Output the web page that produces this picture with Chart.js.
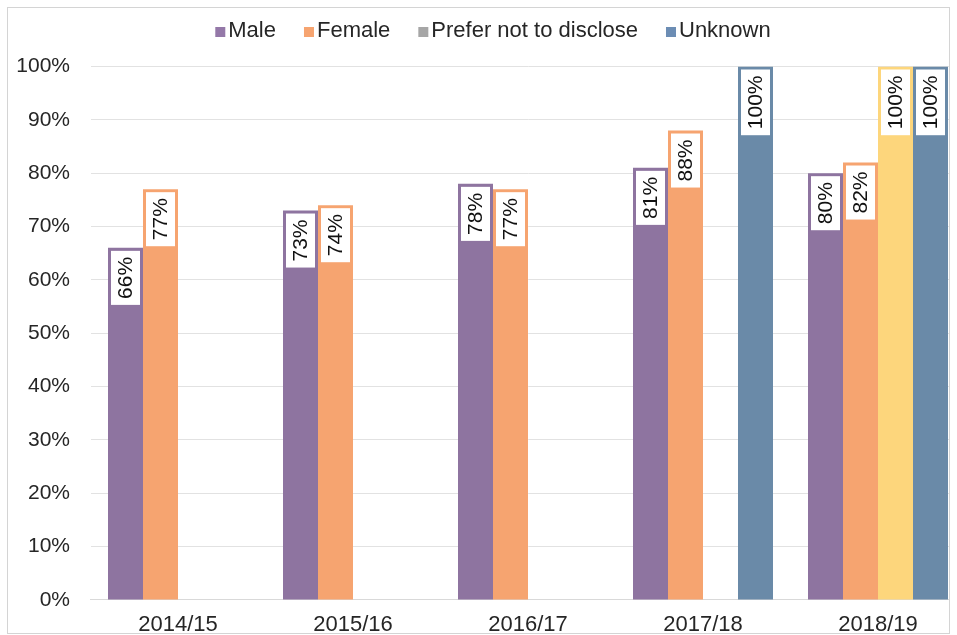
<!DOCTYPE html>
<html><head><meta charset="utf-8">
<script src="https://cdn.jsdelivr.net/npm/chart.js@4/dist/chart.umd.min.js"></script>
<style>
html,body{margin:0;padding:0;background:#fff;width:957px;height:635px;overflow:hidden}
#frame{position:absolute;left:7px;top:7px;width:941px;height:625px;border:1px solid #d4d4d4;overflow:hidden;background:#fff}
#c{position:absolute;left:0;top:0}
</style></head>
<body><div id="frame"><canvas id="c" width="970" height="625" style="width:970px;height:625px"></canvas></div>
<script>
const categories = ['2014/15', '2015/16', '2016/17', '2017/18', '2018/19'];
const seriesNames = ['Male', 'Female', 'Prefer not to disclose', 'Unknown'];
const male = [66, 73, 78, 81, 80];
const female = [77, 74, 77, 88, 82];
const preferNot = [null, null, null, null, 100];
const unknown = [null, null, null, 100, 100];
const yTickValues = [0, 10, 20, 30, 40, 50, 60, 70, 80, 90, 100];

const COL_MALE = '#8e74a0';
const COL_FEMALE = '#f6a470';
const COL_PREFER_BAR = '#fdd67c';
const COL_PREFER_LEGEND = '#a6a6a6';
const COL_UNKNOWN = '#6a8aa8';
const COL_MALE_LEGEND = '#9478a8';
const COL_UNKNOWN_LEGEND = '#6c8db4';
const FONT = "'Liberation Sans', Arial, sans-serif";
const TEXT = '#262626';

const legendPlugin = {
  id: 'customLegend',
  afterDraw(chart) {
    const ctx = chart.ctx;
    const items = chart.data.datasets.map(d => ({ label: d.label, color: d.legendColor }));
    ctx.save();
    ctx.font = '22px ' + FONT;
    const box = 10, gap = 3, spacing = 28;
    let total = 0;
    items.forEach((it, i) => {
      it.w = box + gap + ctx.measureText(it.label).width;
      total += it.w + (i ? spacing : 0);
    });
    let x = chart.width / 2 - total / 2;
    const yc = 23;
    ctx.textBaseline = 'middle';
    ctx.textAlign = 'left';
    items.forEach(it => {
      ctx.fillStyle = it.color;
      ctx.fillRect(x, yc - box / 2 + 1, box, box);
      ctx.fillStyle = TEXT;
      ctx.fillText(it.label, x + box + gap, yc);
      x += it.w + spacing;
    });
    ctx.restore();
  }
};

const labelPlugin = {
  id: 'boxLabels',
  afterDatasetsDraw(chart) {
    const ctx = chart.ctx;
    ctx.save();
    ctx.font = '21px ' + FONT;
    chart.data.datasets.forEach((ds, di) => {
      const meta = chart.getDatasetMeta(di);
      meta.data.forEach((el, i) => {
        const v = ds.data[i];
        if (v === null || v === undefined) return;
        const p = el.getProps(['x', 'y', 'width'], true);
        const txt = Math.round(v) + '%';
        const tw = ctx.measureText(txt).width;
        const inset = 3, pad = 6;
        const bx = p.x - p.width / 2 + inset;
        const bw = p.width - 2 * inset;
        const by = p.y + inset;
        const bh = tw + 2 * pad;
        ctx.fillStyle = '#ffffff';
        ctx.fillRect(bx, by, bw, bh);
        ctx.save();
        ctx.translate(p.x, by + bh / 2);
        ctx.rotate(-Math.PI / 2);
        ctx.fillStyle = '#111';
        ctx.textAlign = 'center';
        ctx.textBaseline = 'middle';
        ctx.fillText(txt, 0, 1);
        ctx.restore();
      });
    });
    ctx.restore();
  }
};

new Chart(document.getElementById('c'), {
  type: 'bar',
  data: {
    labels: categories,
    datasets: [
      { label: seriesNames[0], data: male, backgroundColor: COL_MALE, legendColor: COL_MALE_LEGEND },
      { label: seriesNames[1], data: female, backgroundColor: COL_FEMALE, legendColor: COL_FEMALE },
      { label: seriesNames[2], data: preferNot, backgroundColor: COL_PREFER_BAR, legendColor: COL_PREFER_LEGEND },
      { label: seriesNames[3], data: unknown, backgroundColor: COL_UNKNOWN, legendColor: COL_UNKNOWN_LEGEND }
    ]
  },
  options: {
    responsive: false,
    animation: false,
    devicePixelRatio: 1,
    categoryPercentage: 0.8,
    barPercentage: 1.0,
    layout: { padding: { top: 58.5, right: 12.5, left: 0, bottom: 0 } },
    plugins: { legend: { display: false }, tooltip: { enabled: false } },
    scales: {
      x: {
        grid: { display: false },
        border: { display: true, color: '#d9d9d9' },
        ticks: { color: TEXT, font: { family: FONT, size: 22 }, padding: 4, maxRotation: 0 },
        afterFit(s) { s.height = 33; }
      },
      y: {
        min: 0, max: 100,
        afterBuildTicks(s) { s.ticks = yTickValues.map(v => ({ value: v })); },
        grid: { color: '#e2e2e2', drawTicks: false },
        border: { display: false },
        ticks: { color: TEXT, font: { family: FONT, size: 21 }, padding: 20.5, callback: v => v + '%' },
        afterFit(s) { s.width = 82.5; }
      }
    }
  },
  plugins: [legendPlugin, labelPlugin]
});
</script>
</body></html>
